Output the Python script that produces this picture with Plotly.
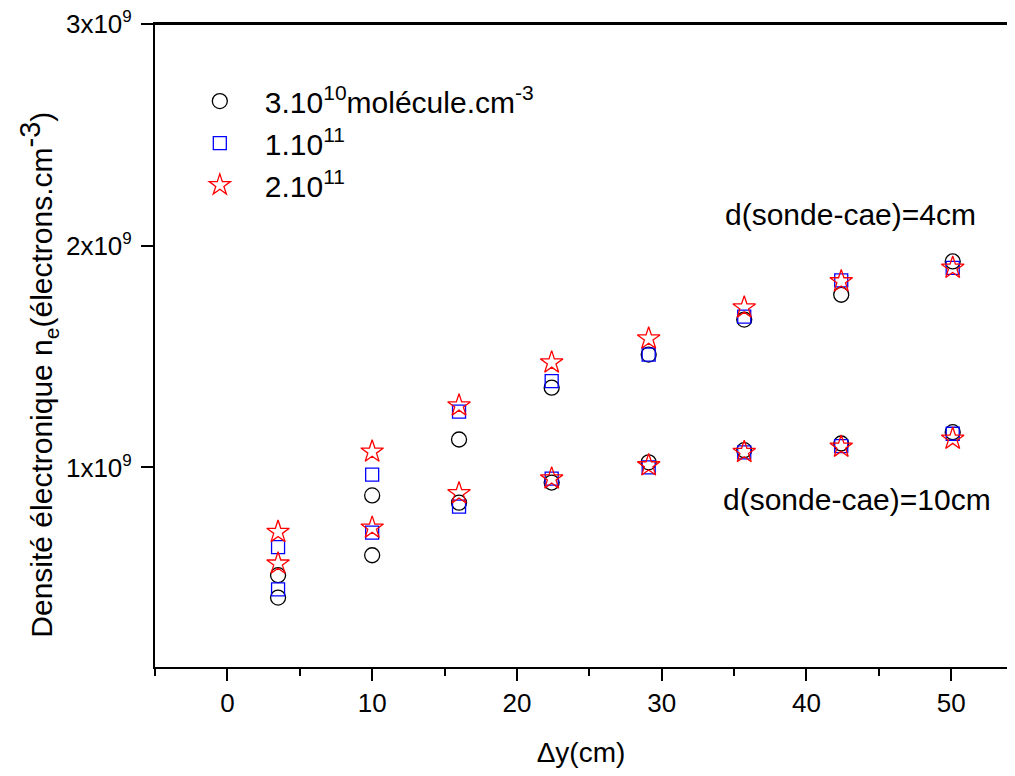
import plotly.graph_objects as go

# Δy positions (cm)
dy = [3.5, 10.0, 16.0, 22.4, 29.1, 35.7, 42.4, 50.1]

# Electron density (x1e9 electrons/cm^3), d(sonde-cae)=4cm
ne_3e10_4cm = [0.514, 0.874, 1.126, 1.360, 1.509, 1.667, 1.779, 1.929]
ne_1e11_4cm = [0.641, 0.968, 1.252, 1.389, 1.509, 1.680, 1.844, 1.900]
ne_2e11_4cm = [0.709, 1.071, 1.279, 1.473, 1.581, 1.721, 1.839, 1.900]

# d(sonde-cae)=10cm
ne_3e10_10cm = [0.413, 0.604, 0.841, 0.932, 1.023, 1.078, 1.108, 1.159]
ne_1e11_10cm = [0.450, 0.706, 0.823, 0.950, 1.000, 1.068, 1.096, 1.152]
ne_2e11_10cm = [0.566, 0.728, 0.883, 0.950, 1.009, 1.069, 1.093, 1.129]

series_names = ["3.10<sup>10</sup>molécule.cm<sup>-3</sup>",
                "1.10<sup>11</sup>",
                "2.10<sup>11</sup>"]
x_tick_vals = [0, 10, 20, 30, 40, 50]
x_minor_vals = [-5, 5, 15, 25, 35, 45]
y_tick_vals = [1e9, 2e9, 3e9]
y_tick_text = ["1x10<sup><span style='font-size:17px'>9</span></sup>",
               "2x10<sup><span style='font-size:17px'>9</span></sup>",
               "3x10<sup><span style='font-size:17px'>9</span></sup>"]

FONT = "Liberation Sans, Arial, sans-serif"
NB = "\u00a0\u00a0\u00a0"

styles = [
    dict(symbol="circle-open", color="black", size=15),
    dict(symbol="square-open", color="#0000ff", size=13),
    dict(symbol="star-open", color="#ff0000", size=17),
]

fig = go.Figure()
groups4 = [ne_3e10_4cm, ne_1e11_4cm, ne_2e11_4cm]
groups10 = [ne_3e10_10cm, ne_1e11_10cm, ne_2e11_10cm]
for i, (name, st) in enumerate(zip(series_names, styles)):
    for j, vals in enumerate([groups10[i], groups4[i]]):
        fig.add_trace(go.Scatter(
            x=dy, y=[v * 1e9 for v in vals], mode="markers",
            name=NB + name, legendgroup=name, showlegend=(j == 0),
            marker=dict(symbol=st["symbol"], size=st["size"],
                        color=st["color"], line=dict(color=st["color"], width=1.3)),
            cliponaxis=False,
        ))

fig.add_annotation(x=51.85, y=2.14e9, xref="x", yref="y", text="d(sonde-cae)=4cm",
                   showarrow=False, xanchor="right", yanchor="middle",
                   font=dict(size=30, color="black", family=FONT))
fig.add_annotation(x=52.9, y=0.856e9, xref="x", yref="y", text="d(sonde-cae)=10cm",
                   showarrow=False, xanchor="right", yanchor="middle",
                   font=dict(size=30, color="black", family=FONT))

# y-axis title as a rotated annotation
fig.add_annotation(
    x=-0.137, y=0.455, xref="paper", yref="paper",
    text="Densité électronique n<sub>e</sub>(électrons.cm<sup><span style='font-size:29px'>-3</span></sup>)",
    textangle=-90, showarrow=False, xanchor="center", yanchor="middle",
    font=dict(size=30, color="black", family=FONT))

# top frame line of the plot area
fig.add_shape(type="line", xref="paper", yref="paper", x0=0, x1=1, y0=1, y1=1,
              line=dict(color="black", width=2), layer="above")

# the page body has an 8px margin: size the figure so the page does not scroll
fig.update_layout(
    width=999, height=760,
    margin=dict(l=147, r=0, t=16, b=101, autoexpand=False),
    paper_bgcolor="white", plot_bgcolor="white",
    font=dict(family=FONT, color="black", size=26),
    showlegend=True,
    legend=dict(x=0.0526, y=0.9206, xanchor="left", yanchor="top",
                font=dict(size=30, family=FONT), bgcolor="rgba(0,0,0,0)",
                tracegroupgap=0, itemsizing="trace"),
    xaxis=dict(range=[-5, 53.85], tickvals=x_tick_vals, automargin=False,
               ticks="outside", ticklen=12, tickwidth=2, tickcolor="black",
               minor=dict(tickvals=x_minor_vals, ticks="outside",
                          ticklen=7, tickwidth=2, tickcolor="black"),
               showline=True, linewidth=2, linecolor="black", mirror=True,
               showgrid=False, zeroline=False, ticklabeloverflow="allow",
               tickfont=dict(size=26, family=FONT),
               title=dict(text="Δy(cm)", font=dict(size=28, family=FONT), standoff=28)),
    yaxis=dict(range=[1e8, 3e9], tickvals=y_tick_vals, ticktext=y_tick_text,
               automargin=False, ticklabelstandoff=4, ticklabeloverflow="allow",
               ticks="outside", ticklen=12, tickwidth=2, tickcolor="black",
               showline=True, linewidth=2, linecolor="black", mirror=False,
               showgrid=False, zeroline=False,
               tickfont=dict(size=26, family=FONT)),
)

fig.write_html("out.html")
